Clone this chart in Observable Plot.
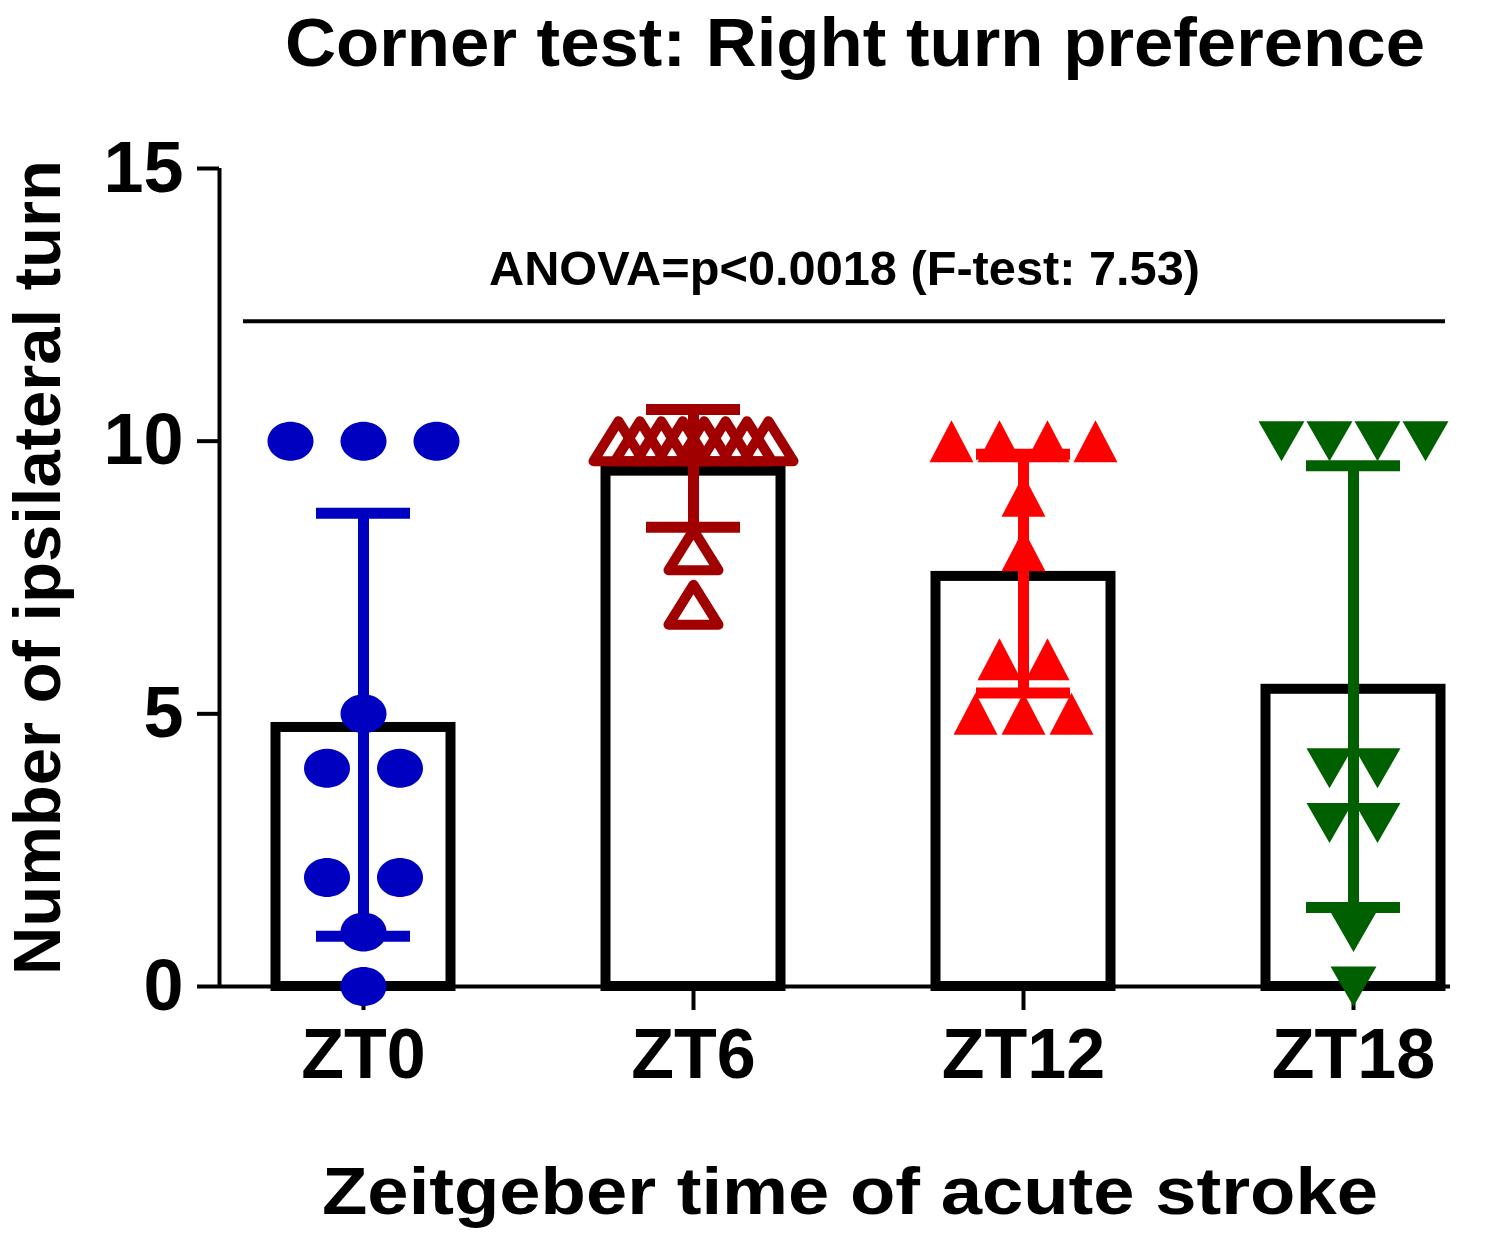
<!DOCTYPE html>
<html><head><meta charset="utf-8">
<script src="https://cdn.jsdelivr.net/npm/d3@7"></script>
<script src="https://cdn.jsdelivr.net/npm/@observablehq/plot@0.6"></script>
<style>body{margin:0;background:#fff} svg{display:block}</style>
</head><body><div id="chart"></div>
<script>
// ---- data ----
const categories = ["ZT0", "ZT6", "ZT12", "ZT18"];
const zt0Values = [10, 10, 10, 5, 4, 4, 2, 2, 1, 0];
const zt6Values = [10, 10, 10, 10, 10, 10, 10, 10, 8, 7];
const zt12Values = [10, 10, 10, 10, 9, 8, 6, 6, 5, 5, 5];
const zt18Values = [10, 10, 10, 10, 4, 4, 3, 3, 1, 0];
const meanValues = [4.75, 9.45, 7.52, 5.45];
const errLow = [0.92, 8.42, 5.38, 1.45];
const errHigh = [8.68, 10.58, 9.76, 9.55];
const yTicks = [0, 5, 10, 15];
const titleText = "Corner test: Right turn preference";
const xLabelText = "Zeitgeber time of acute stroke";
const yLabelText = "Number of ipsilateral turn";
const statText = "ANOVA=p<0.0018 (F-test: 7.53)";
const statLineValue = 12.2;

// ---- styling / layout ----
const groupColors = ["#0000C0", "#A00000", "#FF0000", "#006000"];
const W = 1500, H = 1236;
const mL = 219, mR = 50, mT = 168, mB = 250;
const stepPx = 330, firstCenterPx = 363;
const xDomain = [(mL - firstCenterPx) / stepPx, (W - mR - firstCenterPx) / stepPx];
const barHalf = 87.5 / stepPx;
const capHalf = 47 / stepPx;
const font = "'Liberation Sans', Arial, Helvetica, sans-serif";

// custom marker shapes
const k = 0.5523;
const ellipseSym = {draw(c) { const rx = 23, ry = 19.5;
  c.moveTo(rx, 0); c.bezierCurveTo(rx, ry * k, rx * k, ry, 0, ry);
  c.bezierCurveTo(-rx * k, ry, -rx, ry * k, -rx, 0);
  c.bezierCurveTo(-rx, -ry * k, -rx * k, -ry, 0, -ry);
  c.bezierCurveTo(rx * k, -ry, rx, -ry * k, rx, 0); c.closePath(); }};
const triUp = (w, h) => ({draw(c) { c.moveTo(0, -h); c.lineTo(w, h); c.lineTo(-w, h); c.closePath(); }});
const triDown = (w, h) => ({draw(c) { c.moveTo(0, h); c.lineTo(w, -h); c.lineTo(-w, -h); c.closePath(); }});

const groups = [zt0Values, zt6Values, zt12Values, zt18Values];
const naturalSpacing = [73, 48, 48, 48];
const maxSpread = 150;

// scatter layout: points of equal value are spread side by side
function spread(values, gi) {
  const counts = d3.rollup(values, v => v.length, d => d);
  const seen = new Map();
  return values.map(v => {
    const n = counts.get(v);
    const j = seen.get(v) || 0; seen.set(v, j + 1);
    const s = n > 1 ? Math.min(naturalSpacing[gi], maxSpread / (n - 1)) : 0;
    return {x: gi + ((j - (n - 1) / 2) * s) / stepPx, y: v};
  });
}
const pts = groups.map((g, i) => spread(g, i));

const summary = categories.map((c, i) => ({i, c, mean: meanValues[i], lo: errLow[i], hi: errHigh[i], color: groupColors[i]}));

const statX1 = (243 - firstCenterPx) / stepPx, statX2 = (1445 - firstCenterPx) / stepPx;

const chart = Plot.plot({
  width: W, height: H,
  marginLeft: mL, marginRight: mR, marginTop: mT, marginBottom: mB,
  style: {fontFamily: font, background: "#fff", color: "#000"},
  x: {type: "linear", domain: xDomain, axis: null},
  y: {domain: [0, 15], axis: null},
  marks: [
    Plot.rectY(summary, {x1: d => d.i - barHalf, x2: d => d.i + barHalf, y1: 0, y2: "mean", fill: "#fff", stroke: "#000", strokeWidth: 10}),
    Plot.ruleY([0], {stroke: "#000", strokeWidth: 4}),
    Plot.ruleX([xDomain[0]], {y1: 0, y2: 15, stroke: "#000", strokeWidth: 4}),
    Plot.axisY({ticks: yTicks, tickSize: 22, tickPadding: 14, fontSize: 72, fontWeight: "bold", strokeWidth: 4, label: null, tickFormat: d => String(d)}),
    Plot.axisX({ticks: [0, 1, 2, 3], tickFormat: i => categories[i], tickSize: 24, tickPadding: 18, fontSize: 70, fontWeight: "bold", strokeWidth: 4, label: null}),
    Plot.ruleX(summary, {x: "i", y1: "lo", y2: "hi", stroke: "color", strokeWidth: 11}),
    Plot.ruleY(summary, {y: "hi", x1: d => d.i - capHalf, x2: d => d.i + capHalf, stroke: "color", strokeWidth: 11}),
    Plot.ruleY(summary, {y: "lo", x1: d => d.i - capHalf, x2: d => d.i + capHalf, stroke: "color", strokeWidth: 11}),
    Plot.dot(pts[0], {x: "x", y: "y", r: 10, symbol: ellipseSym, fill: groupColors[0], stroke: "none"}),
    Plot.dot(pts[1], {x: "x", y: "y", r: 10, symbol: triUp(25, 20), fill: "none", stroke: groupColors[1], strokeWidth: 10, strokeLinejoin: "round"}),
    Plot.dot(pts[2], {x: "x", y: "y", r: 10, symbol: triUp(22, 21), fill: groupColors[2], stroke: "none"}),
    Plot.dot(pts[3], {x: "x", y: "y", r: 10, symbol: triDown(23, 20), fill: groupColors[3], stroke: "none"}),
    Plot.ruleY([statLineValue], {x1: statX1, x2: statX2, stroke: "#000", strokeWidth: 4}),
    Plot.text([statText], {x: (statX1 + statX2) / 2, y: statLineValue, dy: -52, text: d => d, fontSize: 48, fontWeight: "bold", lineAnchor: "middle", fill: "#000"}),
    Plot.text([titleText], {frameAnchor: "top", dx: 20, dy: -124, text: d => d, fontSize: 68, fontWeight: "bold", lineAnchor: "middle", fill: "#000"}),
    Plot.text([xLabelText], {frameAnchor: "bottom", dx: 15, dy: 206, text: d => d, fontSize: 66, fontWeight: "bold", lineAnchor: "middle", fill: "#000"}),
    Plot.text([yLabelText], {frameAnchor: "left", textAnchor: "middle", dx: -181, dy: -10, rotate: -90, text: d => d, fontSize: 66, fontWeight: "bold", lineAnchor: "middle", fill: "#000"})
  ]
});

// match the stretched text widths of the reference
const targetLengths = new Map([[titleText, 1140], [xLabelText, 1056], [yLabelText, 815], [statText, 711]]);
chart.querySelectorAll("text").forEach(t => {
  const L = targetLengths.get(t.textContent);
  if (L) { t.setAttribute("textLength", L); t.setAttribute("lengthAdjust", "spacingAndGlyphs"); }
});
document.getElementById("chart").appendChild(chart);
</script>
</body></html>
